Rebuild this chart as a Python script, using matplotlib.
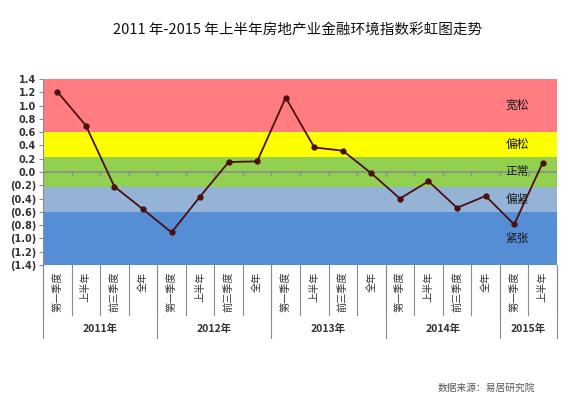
import matplotlib
matplotlib.use("Agg")
import matplotlib.pyplot as plt
import matplotlib.transforms as mtransforms
import numpy as np

plt.rcParams['font.family'] = ['Noto Sans CJK SC', 'DejaVu Sans']

# data
years = ["2011年", "2012年", "2013年", "2014年", "2015年"]
periods_per_year = [4, 4, 4, 4, 2]
period_names = ["第一季度", "上半年", "前三季度", "全年"]
index_values = [1.21, 0.70, -0.22, -0.56,
                -0.91, -0.37, 0.15, 0.16,
                1.12, 0.37, 0.32, -0.02,
                -0.40, -0.14, -0.54, -0.36,
                -0.79, 0.14]

band_edges = [1.4, 0.6, 0.22, -0.22, -0.6, -1.4]
band_names = ["宽松", "偏松", "正常", "偏紧", "紧张"]
band_colors = ["#FF7C80", "#FFFF00", "#92D050", "#95B3D7", "#558ED5"]
y_ticks = np.round(np.arange(-1.4, 1.41, 0.2), 1)

title = "2011 年-2015 年上半年房地产业金融环境指数彩虹图走势"
source = "数据来源：易居研究院"

period_labels = []
for n in periods_per_year:
    period_labels += period_names[:n]
x = np.arange(len(index_values))


def fmt_tick(v):
    if v < -1e-9:
        return f"({abs(v):.1f})"
    return f"{abs(v):.1f}"


fig = plt.figure(figsize=(5.66, 3.99), dpi=100, facecolor="white")
ax = fig.add_axes([43 / 566, 1 - 265 / 399, 514 / 566, 186 / 399])

for i, name in enumerate(band_names):
    ax.axhspan(band_edges[i + 1], band_edges[i], color=band_colors[i], lw=0, zorder=0)
    mid = (band_edges[i] + band_edges[i + 1]) / 2
    ax.text(16.1, mid, name, ha="center", va="center", fontsize=8.5,
            color="#1a1a1a", zorder=3)

# zero line with small ticks at category boundaries
ax.axhline(0, color="#8c8c8c", lw=1.2, zorder=1)
ax.vlines(np.arange(len(x) + 1) - 0.5, -0.06, 0, color="#8c8c8c", lw=1, zorder=1)

ax.plot(x, index_values, color="#4a0f0f", lw=1.3, marker="o", ms=3.5, zorder=4)

ax.set_xlim(-0.5, len(x) - 0.5)
ax.set_ylim(-1.4, 1.4)
ax.set_yticks(y_ticks)
ax.set_yticklabels([fmt_tick(v) for v in y_ticks], fontsize=7, color="#333333",
                   fontweight="bold", family=["DejaVu Sans"])
ax.tick_params(axis="y", length=3, color="#8c8c8c", pad=2)
ax.set_xticks([])
for s in ["top", "right", "bottom"]:
    ax.spines[s].set_visible(False)
ax.spines["left"].set_color("#8c8c8c")

# multi-level category axis below the plot
trans = mtransforms.blended_transform_factory(ax.transData, ax.transAxes)
for i, lab in enumerate(period_labels):
    ax.text(x[i], -0.035, lab, rotation=90, ha="center", va="top", fontsize=7.3,
            color="#333333", transform=trans, clip_on=False)

bounds = np.cumsum([0] + periods_per_year) - 0.5
for b in np.arange(len(x) + 1) - 0.5:
    ax.plot([b, b], [0, -0.27], color="#8c8c8c", lw=0.8, transform=trans, clip_on=False)
for b in bounds:
    ax.plot([b, b], [0, -0.39], color="#8c8c8c", lw=0.8, transform=trans, clip_on=False)
for j, yr in enumerate(years):
    ax.text((bounds[j] + bounds[j + 1]) / 2, -0.345, yr, ha="center", va="center",
            fontsize=7.5, fontweight="bold", color="#333333", transform=trans)

fig.text(298 / 566, 1 - 30 / 399, title, ha="center", va="center", fontsize=10.5,
         color="#111111")
fig.text(486 / 566, 1 - 388 / 399, source, ha="center", va="center", fontsize=7,
         color="#555555")

fig.savefig("out.png", dpi=100, facecolor="white")
